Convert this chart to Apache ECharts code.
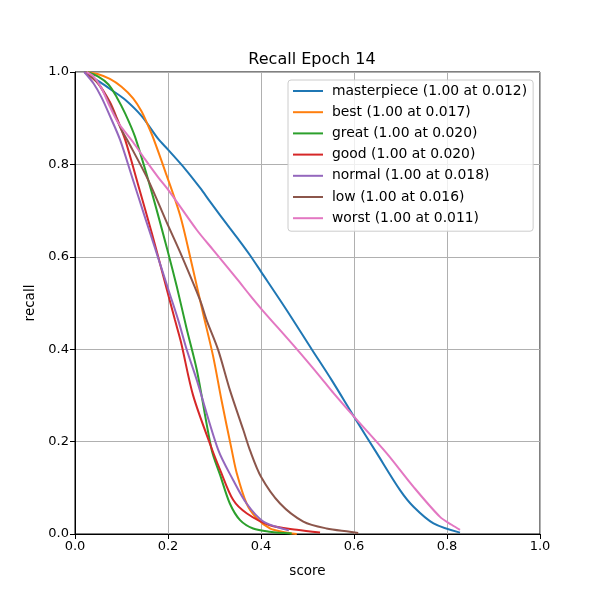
<!DOCTYPE html>
<html>
<head>
<meta charset="utf-8">
<script src="https://cdn.jsdelivr.net/npm/echarts@6/dist/echarts.min.js"></script>
<style>html,body{margin:0;padding:0;background:#fff}#c{width:600px;height:600px}</style>
</head>
<body>
<div id="c"></div>
<script>
const seriesNames = ['masterpiece (1.00 at 0.012)','best (1.00 at 0.017)','great (1.00 at 0.020)','good (1.00 at 0.020)','normal (1.00 at 0.018)','low (1.00 at 0.016)','worst (1.00 at 0.011)'];
const colors = ['#1f77b4','#ff7f0e','#2ca02c','#d62728','#9467bd','#8c564b','#e377c2'];
const xTicks = [0,0.2,0.4,0.6,0.8,1.0];

const masterpiece = [[0.02,1.0],[0.054,0.978],[0.08,0.96],[0.108,0.94],[0.143,0.905],[0.179,0.855],[0.2,0.832],[0.237,0.79],[0.27,0.748],[0.29,0.72],[0.333,0.662],[0.355,0.633],[0.376,0.604],[0.4,0.568],[0.455,0.485],[0.509,0.40],[0.552,0.333],[0.6,0.254],[0.649,0.175],[0.699,0.095],[0.728,0.059],[0.771,0.023],[0.828,0.003]];
const best = [[0.025,1.0],[0.05,0.995],[0.075,0.985],[0.1,0.968],[0.125,0.943],[0.143,0.915],[0.158,0.882],[0.168,0.858],[0.194,0.785],[0.226,0.69],[0.251,0.585],[0.276,0.475],[0.297,0.385],[0.315,0.29],[0.337,0.182],[0.348,0.131],[0.369,0.066],[0.391,0.034],[0.419,0.012],[0.445,0.005],[0.477,0.0]];
const great = [[0.025,1.0],[0.05,0.99],[0.072,0.973],[0.09,0.945],[0.108,0.91],[0.129,0.86],[0.165,0.74],[0.2,0.61],[0.219,0.535],[0.24,0.445],[0.262,0.355],[0.294,0.182],[0.312,0.128],[0.333,0.066],[0.355,0.030],[0.383,0.012],[0.419,0.005],[0.466,0.001]];
const good = [[0.02,1.0],[0.05,0.975],[0.075,0.935],[0.09,0.90],[0.108,0.853],[0.136,0.755],[0.165,0.652],[0.19,0.558],[0.215,0.463],[0.228,0.415],[0.254,0.30],[0.294,0.185],[0.312,0.139],[0.340,0.074],[0.369,0.045],[0.419,0.019],[0.477,0.009],[0.527,0.003]];
const normal = [[0.02,1.0],[0.04,0.975],[0.057,0.945],[0.075,0.905],[0.097,0.853],[0.122,0.775],[0.15,0.687],[0.172,0.619],[0.204,0.519],[0.222,0.463],[0.240,0.40],[0.262,0.333],[0.308,0.182],[0.340,0.117],[0.369,0.066],[0.405,0.027],[0.452,0.010],[0.46,0.008]];
const low = [[0.025,1.0],[0.05,0.975],[0.072,0.937],[0.1,0.875],[0.115,0.848],[0.158,0.765],[0.197,0.675],[0.226,0.61],[0.269,0.506],[0.283,0.463],[0.308,0.398],[0.333,0.312],[0.362,0.225],[0.376,0.182],[0.4,0.124],[0.441,0.066],[0.491,0.027],[0.541,0.012],[0.591,0.005],[0.609,0.002]];
const worst = [[0.025,1.0],[0.04,0.99],[0.057,0.965],[0.075,0.925],[0.093,0.89],[0.125,0.848],[0.15,0.812],[0.179,0.772],[0.204,0.74],[0.262,0.658],[0.297,0.615],[0.35,0.55],[0.376,0.517],[0.4,0.488],[0.477,0.40],[0.53,0.337],[0.556,0.305],[0.6,0.254],[0.670,0.175],[0.728,0.102],[0.785,0.037],[0.81,0.02],[0.828,0.009]];

const allData = [masterpiece,best,great,good,normal,low,worst];
const font = 'DejaVu Sans';
const chart = echarts.init(document.getElementById('c'), null, {renderer:'canvas'});
chart.setOption({
  animation:false,
  backgroundColor:'#fff',
  title:{text:'Recall Epoch 14',left:307,top:47,textAlign:'center',textStyle:{fontFamily:font,fontSize:16,fontWeight:'normal',color:'#000'}},
  grid:{left:75,right:60,top:72,bottom:66,show:true,borderColor:'#000',borderWidth:1,backgroundColor:'transparent'},
  legend:{
    orient:'vertical',left:288,top:80,
    data:seriesNames,
    icon:'rect',itemWidth:30,itemHeight:2,itemGap:5.2,
    textStyle:{fontFamily:font,fontSize:13.9,color:'#000',lineHeight:16,padding:[0,0,0,4]},
    backgroundColor:'rgba(255,255,255,0.8)',borderColor:'#ccc',borderWidth:1,borderRadius:3,
    padding:[3,6,5,5]
  },
  xAxis:{type:'value',min:0,max:1,interval:0.2,name:'score',nameLocation:'middle',nameGap:30,
    nameTextStyle:{fontFamily:font,fontSize:13.5,color:'#000'},
    axisLine:{show:true,lineStyle:{color:'#000'}},axisTick:{show:true,inside:false,length:5,lineStyle:{color:'#000'}},
    axisLabel:{fontFamily:font,fontSize:13,color:'#000',margin:6,formatter:v=>v.toFixed(1)},
    splitLine:{show:true,lineStyle:{color:'#b0b0b0',width:1}}},
  yAxis:{type:'value',min:0,max:1,interval:0.2,name:'recall',nameLocation:'middle',nameGap:38,
    nameTextStyle:{fontFamily:font,fontSize:13.5,color:'#000'},
    axisLine:{show:true,lineStyle:{color:'#000'}},axisTick:{show:true,inside:false,length:5,lineStyle:{color:'#000'}},
    axisLabel:{fontFamily:font,fontSize:13,color:'#000',margin:6,formatter:v=>v.toFixed(1)},
    splitLine:{show:true,lineStyle:{color:'#b0b0b0',width:1}}},
  series: seriesNames.map((n,i)=>({
    name:n,type:'line',data:allData[i],showSymbol:false,symbol:'none',smooth:0.3,
    lineStyle:{color:colors[i],width:2},itemStyle:{color:colors[i]},clip:true
  }))
});
</script>
</body>
</html>
